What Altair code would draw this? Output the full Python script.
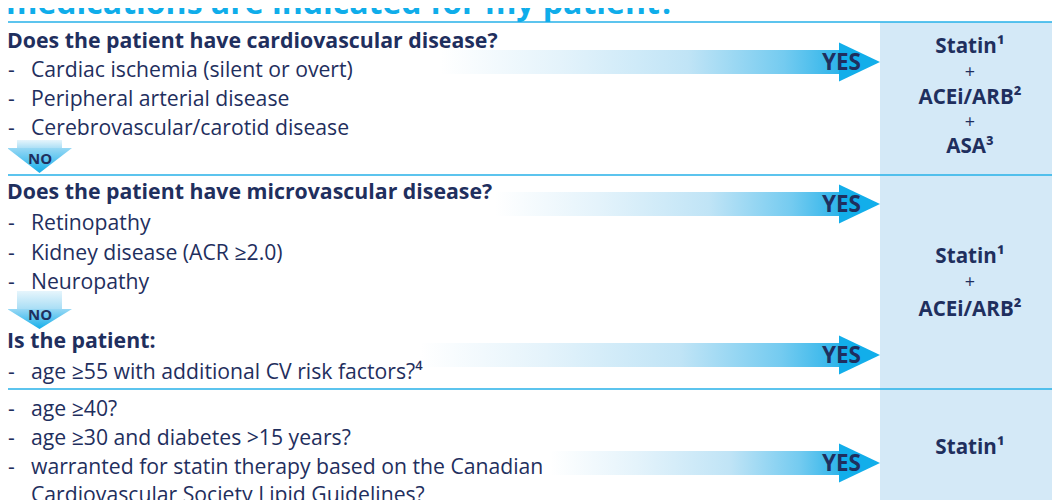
import altair as alt
import pandas as pd

NAVY = "#1F2F5E"
CYAN = "#12AEEA"
PANEL = "#D4E9F7"
FONT = "Open Sans"

# ---------------- content ----------------
title_text = "medications are indicated for my patient?"

headings = ["Does the patient have cardiovascular disease?",
            "Does the patient have microvascular disease?",
            "Is the patient:"]
heading_rows = [42, 193, 342]

items = ["Cardiac ischemia (silent or overt)",
         "Peripheral arterial disease",
         "Cerebrovascular/carotid disease",
         "Retinopathy",
         "Kidney disease (ACR \u22652.0)",
         "Neuropathy",
         "age \u226555 with additional CV risk factors?\u2074",
         "age \u226540?",
         "age \u226530 and diabetes >15 years?",
         "warranted for statin therapy based on the Canadian",
         "Cardiovascular Society Lipid Guidelines?"]
item_rows = [71, 100, 129, 224, 254, 283, 373, 410, 439, 468, 496]
item_dash = [True, True, True, True, True, True, True, True, True, True, False]

treat_lines = ["Statin\u00b9", "+", "ACEi/ARB\u00b2", "+", "ASA\u00b3",
               "Statin\u00b9", "+", "ACEi/ARB\u00b2",
               "Statin\u00b9"]
treat_rows = [47, 73, 97.5, 123, 147, 257, 283, 310, 448]

divider_rows = [22, 175, 389]

yes_rows = [62, 204, 355, 463]
yes_start = [440, 495, 420, 550]

no_rows = [159, 315]
no_shaft_top = [140, 291]
no_head_top = [148, 309]
no_tip = [173, 329]

# ---------------- layout helpers ----------------
X0, X1, Y0, Y1 = 8, 1052, 8, 500
X = lambda f="x": alt.X(f"{f}:Q", scale=alt.Scale(domain=[X0, X1], nice=False, zero=False), axis=None)
Y = lambda f="y": alt.Y(f"{f}:Q", scale=alt.Scale(domain=[Y0, Y1], nice=False, zero=False, reverse=True), axis=None)

# panel
panel_df = pd.DataFrame({"x": [880], "x2": [X1], "y": [divider_rows[0]], "y2": [Y1]})
panel = alt.Chart(panel_df).mark_rect(color=PANEL).encode(
    x=X(), x2="x2:Q", y=Y(), y2="y2:Q")

# divider lines
div_df = pd.DataFrame({"y": divider_rows, "x": [X0] * 3, "x2": [X1] * 3})
dividers = alt.Chart(div_df).mark_rule(color="#26B1E8", strokeWidth=1.6).encode(
    x=X(), x2="x2:Q", y=Y())

# YES arrows: shafts
h_grad = alt.Gradient(
    gradient="linear",
    stops=[alt.GradientStop(color="#FFFFFF", offset=0),
           alt.GradientStop(color="#E4F3FB", offset=0.3),
           alt.GradientStop(color="#C0E4F6", offset=0.62),
           alt.GradientStop(color="#74CBF0", offset=0.86),
           alt.GradientStop(color="#2DB4EA", offset=1)],
    x1=0, x2=1, y1=0, y2=0)
shaft_df = pd.DataFrame({"x": yes_start, "x2": [840] * 4,
                         "y": [c - 12 for c in yes_rows],
                         "y2": [c + 12 for c in yes_rows]})
shafts = alt.Chart(shaft_df).mark_rect(color=h_grad).encode(
    x=X(), x2="x2:Q", y=Y(), y2="y2:Q")

head_rows = []
for i, c in enumerate(yes_rows):
    head_rows.append({"id": i, "x": 839, "y": c - 19.5, "y2": c + 19.5})
    head_rows.append({"id": i, "x": 880, "y": c, "y2": c})
heads = alt.Chart(pd.DataFrame(head_rows)).mark_area(
    color=CYAN, orient="vertical").encode(
    x=X(), y=Y(), y2="y2:Q", detail="id:N")

yes_df = pd.DataFrame({"x": [861] * 4, "y": [c + 1 for c in yes_rows], "t": ["YES"] * 4})
yes_text = alt.Chart(yes_df).mark_text(
    align="right", baseline="middle", font=FONT, fontSize=22.5,
    fontWeight="bold", color=NAVY).encode(x=X(), y=Y(), text="t:N")

# NO arrows
v_grad = alt.Gradient(
    gradient="linear",
    stops=[alt.GradientStop(color="#E6F5FC", offset=0),
           alt.GradientStop(color="#A6DDF5", offset=1)],
    x1=0, x2=0, y1=0, y2=1)
vhead_grad = alt.Gradient(
    gradient="linear",
    stops=[alt.GradientStop(color="#98D8F4", offset=0),
           alt.GradientStop(color="#16AFEA", offset=1)],
    x1=0, x2=0, y1=0, y2=1)
noshaft_df = pd.DataFrame({"x": [17, 17], "x2": [62, 62],
                           "y": no_shaft_top, "y2": [h + 1 for h in no_head_top]})
noshafts = alt.Chart(noshaft_df).mark_rect(color=v_grad).encode(
    x=X(), x2="x2:Q", y=Y(), y2="y2:Q")
nohead_rows = []
for i in range(2):
    nohead_rows.append({"id": i, "y": no_head_top[i], "x": 7, "x2": 72})
    nohead_rows.append({"id": i, "y": no_tip[i], "x": 39.5, "x2": 39.5})
noheads = alt.Chart(pd.DataFrame(nohead_rows)).mark_area(
    color=vhead_grad, orient="horizontal").encode(
    y=Y(), x=X(), x2="x2:Q", detail="id:N")
no_df = pd.DataFrame({"x": [40, 40], "y": no_rows, "t": ["NO", "NO"]})
no_text = alt.Chart(no_df).mark_text(
    align="center", baseline="middle", font=FONT, fontSize=15,
    fontWeight="bold", color=NAVY).encode(x=X(), y=Y(), text="t:N")

# title
title_df = pd.DataFrame({"x": [6], "y": [14], "t": [title_text]})
title = alt.Chart(title_df).mark_text(
    align="left", baseline="alphabetic", font=FONT, fontSize=32,
    fontWeight="bold", color="#0FADEA").encode(x=X(), y=Y(), text="t:N")

# headings
head_df = pd.DataFrame({"x": [7] * len(headings), "y": heading_rows, "t": headings})
head_text = alt.Chart(head_df).mark_text(
    align="left", baseline="middle", font=FONT, fontSize=21.3,
    fontWeight="bold", color=NAVY).encode(x=X(), y=Y(), text="t:N")

# items
item_df = pd.DataFrame({"x": [31] * len(items), "y": item_rows, "t": items})
item_text = alt.Chart(item_df).mark_text(
    align="left", baseline="middle", font=FONT, fontSize=21.2,
    color=NAVY).encode(x=X(), y=Y(), text="t:N")
dash_df = pd.DataFrame({"x": [8] * sum(item_dash),
                        "y": [r for r, d in zip(item_rows, item_dash) if d],
                        "t": ["-"] * sum(item_dash)})
dash_text = alt.Chart(dash_df).mark_text(
    align="left", baseline="middle", font=FONT, fontSize=21,
    color=NAVY).encode(x=X(), y=Y(), text="t:N")

# treatments
treat_df = pd.DataFrame({"x": [970] * len(treat_lines), "y": treat_rows, "t": treat_lines,
                         "w": ["plus" if t == "+" else "name" for t in treat_lines]})
treat_bold = alt.Chart(treat_df[treat_df.w == "name"]).mark_text(
    align="center", baseline="middle", font=FONT, fontSize=20.6,
    fontWeight="bold", color=NAVY).encode(x=X(), y=Y(), text="t:N")
treat_plus = alt.Chart(treat_df[treat_df.w == "plus"]).mark_text(
    align="center", baseline="middle", font=FONT, fontSize=18,
    color=NAVY).encode(x=X(), y=Y(), text="t:N")

chart = alt.layer(
    panel, dividers, shafts, heads, noshafts, noheads,
    title, head_text, item_text, dash_text, yes_text, no_text,
    treat_bold, treat_plus
).properties(
    width=X1 - X0, height=Y1 - Y0, padding=0,
    autosize=alt.AutoSizeParams(type="none")
).configure_view(stroke=None)

chart.save("out.html", embed_options={"renderer": "svg", "actions": False})
